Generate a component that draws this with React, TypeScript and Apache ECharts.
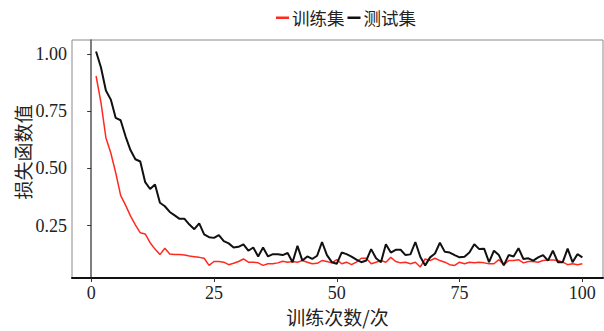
import { useEffect, useRef } from 'react';
import * as echarts from 'echarts';

const trainLoss = [
  0.903, 0.787, 0.634, 0.567, 0.481, 0.382, 0.34, 0.293, 0.254, 0.219,
  0.214, 0.176, 0.148, 0.124, 0.152, 0.127, 0.124, 0.124, 0.122, 0.118,
  0.115, 0.112, 0.108, 0.077, 0.094, 0.094, 0.091, 0.08, 0.086, 0.094,
  0.105, 0.091, 0.091, 0.088, 0.077, 0.084, 0.084, 0.088, 0.095, 0.091,
  0.094, 0.091, 0.098, 0.091, 0.084, 0.086, 0.098, 0.094, 0.088, 0.102,
  0.084, 0.091, 0.08, 0.091, 0.108, 0.108, 0.084, 0.091, 0.098, 0.091,
  0.112, 0.094, 0.088, 0.091, 0.084, 0.091, 0.07, 0.105, 0.098, 0.108,
  0.098, 0.091, 0.08, 0.077, 0.091, 0.084, 0.091, 0.088, 0.091, 0.088,
  0.084, 0.084, 0.102, 0.08, 0.098, 0.098, 0.102, 0.088, 0.094, 0.094,
  0.091, 0.098, 0.101, 0.101, 0.098, 0.091, 0.08, 0.084, 0.08, 0.084,
];

const testLoss = [
  1.01, 0.94, 0.84, 0.8, 0.72, 0.71, 0.64, 0.58, 0.54, 0.53,
  0.44, 0.41, 0.43, 0.35, 0.335, 0.31, 0.295, 0.28, 0.28, 0.255,
  0.235, 0.26, 0.212, 0.2, 0.197, 0.209, 0.183, 0.173, 0.155, 0.158,
  0.169, 0.141, 0.155, 0.116, 0.155, 0.116, 0.126, 0.126, 0.122, 0.131,
  0.091, 0.162, 0.098, 0.116, 0.105, 0.119, 0.179, 0.122, 0.091, 0.084,
  0.133, 0.126, 0.115, 0.102, 0.091, 0.098, 0.148, 0.108, 0.091, 0.169,
  0.133, 0.145, 0.145, 0.122, 0.125, 0.179, 0.115, 0.077, 0.112, 0.129,
  0.176, 0.136, 0.133, 0.122, 0.112, 0.115, 0.133, 0.169, 0.148, 0.15,
  0.091, 0.141, 0.122, 0.077, 0.122, 0.116, 0.152, 0.105, 0.108, 0.098,
  0.112, 0.122, 0.098, 0.141, 0.091, 0.091, 0.15, 0.091, 0.126, 0.112,
];

const epochs = trainLoss.map((_, i) => i + 1);
const xTicks = [0, 25, 50, 75, 100];
const yTicks = [0.25, 0.5, 0.75, 1.0];
const seriesNames = ['训练集', '测试集'];

const NUM_FONT = 'Liberation Serif';
const CJK_FONT = 'Noto Sans CJK SC';

export default function App() {
  const ref = useRef<HTMLDivElement>(null);
  useEffect(() => {
    const chart = echarts.init(ref.current!, null, { renderer: 'svg' });
    chart.setOption({
      animation: false,
      backgroundColor: '#ffffff',
      textStyle: { fontFamily: NUM_FONT },
      legend: {
        data: seriesNames,
        left: 271,
        top: 4,
        icon: 'rect',
        itemWidth: 13,
        itemHeight: 2.5,
        itemGap: 3,
        textStyle: { fontFamily: CJK_FONT, fontSize: 17.5, color: '#222', padding: [0, 0, 0, -2] },
      },
      grid: {
        left: 72,
        right: 1,
        top: 40,
        bottom: 48,
        show: true,
        borderColor: '#8a8a8a',
        borderWidth: 1,
      },
      xAxis: {
        type: 'value',
        min: -3.9,
        max: 104.2,
        splitLine: { show: false },
        axisLine: { show: true, lineStyle: { color: '#111', width: 2 } },
        axisTick: { show: true, length: 4, customValues: xTicks, lineStyle: { color: '#333', width: 1 } },
        axisLabel: {
          customValues: xTicks,
          margin: 6,
          fontFamily: NUM_FONT,
          fontSize: 18,
          color: '#222',
        },
        name: '训练次数/次',
        nameLocation: 'middle',
        nameGap: 29,
        nameTextStyle: { fontFamily: CJK_FONT, fontSize: 19, color: '#222' },
      },
      yAxis: {
        type: 'value',
        min: 0.022,
        max: 1.06,
        splitLine: { show: false },
        axisLine: { show: true, lineStyle: { color: '#555', width: 1.5 } },
        axisTick: { show: true, length: 4, customValues: yTicks, lineStyle: { color: '#333', width: 1 } },
        axisLabel: {
          customValues: yTicks,
          margin: 5,
          fontFamily: NUM_FONT,
          fontSize: 18,
          color: '#222',
          formatter: (v: number) => v.toFixed(2),
        },
      },
      graphic: [
        {
          type: 'text',
          x: 22,
          y: 152,
          rotation: Math.PI / 2,
          style: {
            text: '损失函数值',
            fontFamily: CJK_FONT,
            fontSize: 19,
            fill: '#222',
            align: 'center',
            verticalAlign: 'middle',
          },
        },
      ],
      series: [
        {
          name: seriesNames[0],
          type: 'line',
          showSymbol: false,
          data: epochs.map((e, i) => [e, trainLoss[i]]),
          lineStyle: { color: '#ff2a1f', width: 1.5 },
          itemStyle: { color: '#ff2a1f' },
        },
        {
          name: seriesNames[1],
          type: 'line',
          showSymbol: false,
          data: epochs.map((e, i) => [e, testLoss[i]]),
          lineStyle: { color: '#111111', width: 2 },
          itemStyle: { color: '#111111' },
        },
      ],
    });
    return () => chart.dispose();
  }, []);
  return (
    <div
      ref={ref}
      style={{ position: 'absolute', left: 0, top: 0, width: 604, height: 331, background: '#fff' }}
    />
  );
}
